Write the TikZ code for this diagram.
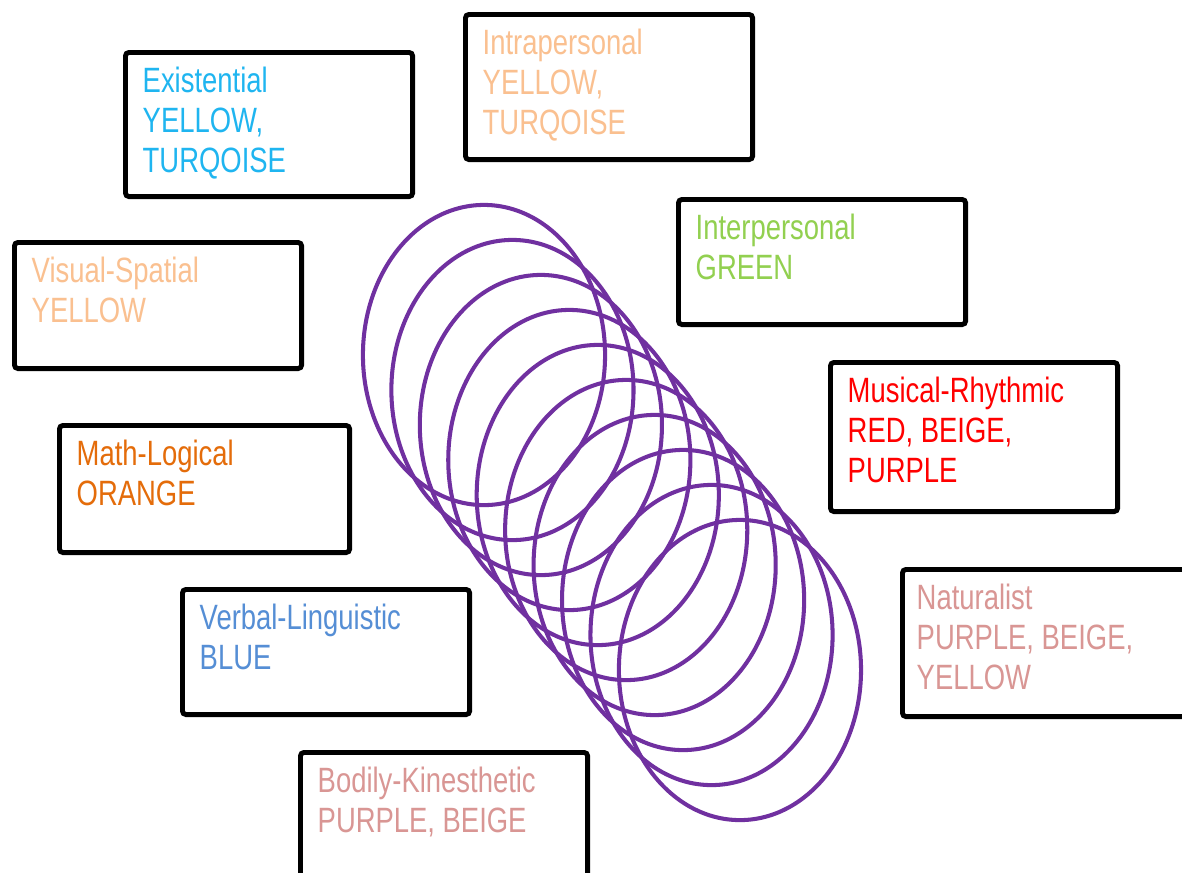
\documentclass[tikz,border=0pt]{standalone}
\usepackage{fontspec}
\setmainfont[FakeStretch=0.78]{Liberation Sans}
\definecolor{ringpurple}{HTML}{7030A0}
\definecolor{cExist}{HTML}{1FB5F0}
\definecolor{cPeach}{HTML}{FAC090}
\definecolor{cGreen}{HTML}{92D050}
\definecolor{cRed}{HTML}{FF0000}
\definecolor{cOrange}{HTML}{E46C0A}
\definecolor{cPink}{HTML}{D99694}
\definecolor{cBlue}{HTML}{558ED5}
\begin{document}
\begin{tikzpicture}[x=0.01cm,y=-0.01cm,
  box/.style={draw=black, line width=1.4pt, rounded corners=1pt, anchor=north west,
              minimum width=2.87cm, inner sep=0pt, fill=none},
  lbl/.style={anchor=north west, align=left, inner sep=0pt,
              font=\fontsize{10}{11.4}\selectfont},
  ring/.style={draw=ringpurple, line width=1.15pt}]
\useasboundingbox (0,0) rectangle (1182,872);
\clip (0,0) rectangle (1182,872);
\fill[white] (0,0) rectangle (1182,872);

% chain of ellipses
\foreach \i in {0,...,9}
  \draw[ring] ({484+28.44*\i},{355+35*\i}) ellipse [x radius=1.21cm, y radius=1.5cm];

% boxes
\node[box, minimum height=1.44cm] (exb) at (123,50) {};
\node[box, minimum height=1.45cm] (inb) at (463,12) {};
\node[box, minimum height=1.25cm] (ipb) at (676,197) {};
\node[box, minimum height=1.26cm] (vsb) at (12,240) {};
\node[box, minimum height=1.27cm, minimum width=2.90cm] (mlb) at (57,423) {};
\node[box, minimum height=1.25cm] (vlb) at (180,587) {};
\node[box, minimum height=1.49cm] (mrb) at (828,360) {};
\node[box, minimum height=1.47cm, minimum width=2.90cm] (nab) at (900,567) {};
\node[box, minimum height=1.30cm] (bkb) at (298,750) {};

% labels
\node[lbl, text=cExist] (ext) at ([xshift=0.19cm, yshift=-0.165cm]exb.north west) {Existential\\YELLOW,\\TURQOISE};
\node[lbl, text=cPeach] (int) at ([xshift=0.19cm, yshift=-0.165cm]inb.north west) {Intrapersonal\\YELLOW,\\TURQOISE};
\node[lbl, text=cGreen] (ipt) at ([xshift=0.19cm, yshift=-0.165cm]ipb.north west) {Interpersonal\\GREEN};
\node[lbl, text=cPeach] (vst) at ([xshift=0.19cm, yshift=-0.165cm]vsb.north west) {Visual-Spatial\\YELLOW};
\node[lbl, text=cOrange] (mlt) at ([xshift=0.19cm, yshift=-0.165cm]mlb.north west) {Math-Logical\\ORANGE};
\node[lbl, text=cBlue] (vlt) at ([xshift=0.19cm, yshift=-0.165cm]vlb.north west) {Verbal-Linguistic\\BLUE};
\node[lbl, text=cRed] (mrt) at ([xshift=0.19cm, yshift=-0.165cm]mrb.north west) {Musical-Rhythmic\\RED, BEIGE,\\PURPLE};
\node[lbl, text=cPink] (nat) at ([xshift=0.16cm, yshift=-0.165cm]nab.north west) {Naturalist\\PURPLE, BEIGE,\\YELLOW};
\node[lbl, text=cPink] (bkt) at ([xshift=0.19cm, yshift=-0.165cm]bkb.north west) {Bodily-Kinesthetic\\PURPLE, BEIGE};
\end{tikzpicture}
\end{document}
